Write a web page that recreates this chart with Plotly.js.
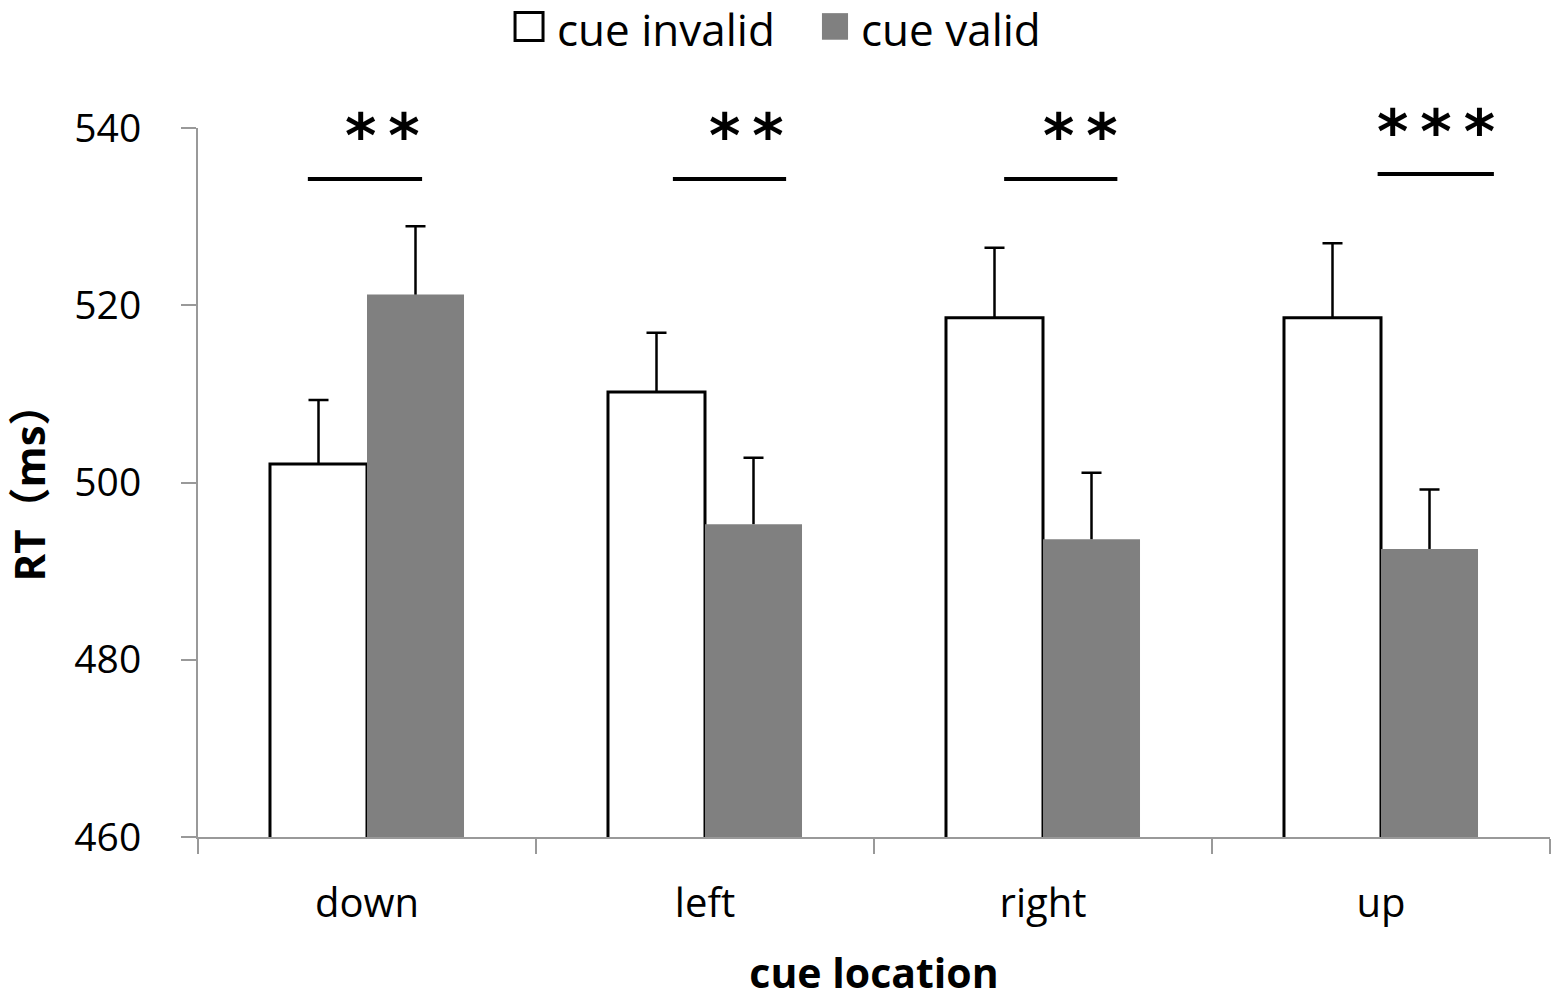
<!DOCTYPE html>
<html>
<head>
<meta charset="utf-8">
<script src="https://cdn.plot.ly/plotly-3.0.1.min.js"></script>
<style>
  html, body { margin: 0; padding: 0; background: #fff; }
  #chart { width: 1559px; height: 1000px; }
</style>
</head>
<body>
<div id="chart"></div>
<script>
// cue location categories
var locations = ['down', 'left', 'right', 'up'];

// mean RT (ms) and upper error (ms)
var invalidRT = [502.1, 510.2, 518.6, 518.6];
var invalidErr = [7.2, 6.7, 7.9, 8.4];
var validRT = [521.2, 495.3, 493.6, 492.5];
var validErr = [7.7, 7.5, 7.5, 6.7];

// significance labels per location
var sigLabels = ['**', '**', '**', '***'];
var seriesNames = ['cue invalid', 'cue valid'];

var FONT = 'Open Sans, Noto Sans CJK SC, sans-serif';
var zeros = locations.map(function () { return 0; });

// bars carry the vertical error stem only (no caps)
function barTrace(name, group, y, err, fill, lineW) {
    return {
        type: 'bar', name: name, x: locations, y: y, offsetgroup: group,
        marker: { color: fill, line: { color: '#000000', width: lineW } },
        error_y: { type: 'data', symmetric: false, array: err, arrayminus: zeros,
                   color: '#000000', thickness: 2.5, width: 0 }
    };
}
// transparent bars from mean to mean+err, used only to draw the top cap
function capTrace(group, y, err) {
    return {
        type: 'bar', x: locations, base: y, y: err, offsetgroup: group, showlegend: false,
        marker: { color: 'rgba(0,0,0,0)', line: { width: 0 } },
        error_y: { type: 'data', symmetric: false, array: zeros, arrayminus: zeros,
                   color: '#000000', thickness: 2.5, width: 10 }
    };
}

var traces = [
    barTrace(seriesNames[0], 'inv', invalidRT, invalidErr, '#ffffff', 3),
    barTrace(seriesNames[1], 'val', validRT, validErr, '#808080', 0),
    capTrace('inv', invalidRT, invalidErr),
    capTrace('val', validRT, validErr)
];

// bracket placement (category index offsets), layout only
var lineSpans = [[-0.175, 0.163], [0.905, 1.24], [1.885, 2.22], [2.99, 3.334]];
var lineY = [534.25, 534.25, 534.25, 534.8];
var starX = [0.047, 1.124, 2.11, 3.163];
var starY = [539.1, 539.1, 539.1, 539.5];

var shapes = lineSpans.map(function (s, i) {
    return { type: 'line', xref: 'x', yref: 'y', x0: s[0], x1: s[1], y0: lineY[i], y1: lineY[i],
             line: { color: '#000000', width: 4 } };
});
var annotations = sigLabels.map(function (t, i) {
    return { xref: 'x', yref: 'y', x: starX[i], y: starY[i], text: t.split('').join('\u2009'),
             showarrow: false, yanchor: 'middle',
             font: { family: 'DejaVu Sans', size: 60, color: '#000', weight: 'bold' } };
});

// legend drawn by hand so the swatches can be full size
shapes.push({ type: 'rect', xref: 'paper', yref: 'paper', x0: 0.2345, x1: 0.2552, y0: 1.1235, y1: 1.163,
              fillcolor: '#ffffff', line: { color: '#000000', width: 3 } });
shapes.push({ type: 'rect', xref: 'paper', yref: 'paper', x0: 0.4615, x1: 0.4808, y0: 1.1245, y1: 1.162,
              fillcolor: '#808080', line: { width: 0 } });
annotations.push({ xref: 'paper', yref: 'paper', x: 0.2648, y: 1.1396, xanchor: 'left', yanchor: 'middle',
                   text: seriesNames[0], showarrow: false, borderpad: 0, font: { family: FONT, size: 44 } });
annotations.push({ xref: 'paper', yref: 'paper', x: 0.4896, y: 1.1396, xanchor: 'left', yanchor: 'middle',
                   text: seriesNames[1], showarrow: false, borderpad: 0, font: { family: FONT, size: 44 } });

var layout = {
    width: 1559, height: 1000,
    paper_bgcolor: '#ffffff', plot_bgcolor: '#ffffff',
    margin: { l: 198, r: 9, t: 128, b: 163, autoexpand: false },
    font: { family: FONT, color: '#000000', size: 38 },
    barmode: 'group', bargap: 0.426, bargroupgap: 0,
    showlegend: false,
    xaxis: {
        type: 'category', showgrid: false, zeroline: false,
        showline: true, linecolor: '#999999', linewidth: 2,
        ticks: 'outside', tickson: 'boundaries', ticklen: 15, tickwidth: 2, tickcolor: '#999999',
        tickfont: { family: FONT, size: 40 }, ticklabelstandoff: 30,
        title: { text: 'cue location', font: { family: FONT, size: 41, weight: 'bold' }, standoff: 34 }
    },
    yaxis: {
        range: [460, 540], dtick: 20, showgrid: false, zeroline: false,
        showline: true, linecolor: '#999999', linewidth: 2,
        ticks: 'outside', ticklen: 15, tickwidth: 2, tickcolor: '#999999',
        tickfont: { family: FONT, size: 39 }, ticklabelstandoff: 32,
        title: { text: 'RT（ms）', font: { family: FONT, size: 42, weight: 'bold' }, standoff: 22 }
    },
    shapes: shapes,
    annotations: annotations
};

Plotly.newPlot('chart', traces, layout, { displayModeBar: false, staticPlot: true });
</script>
</body>
</html>
